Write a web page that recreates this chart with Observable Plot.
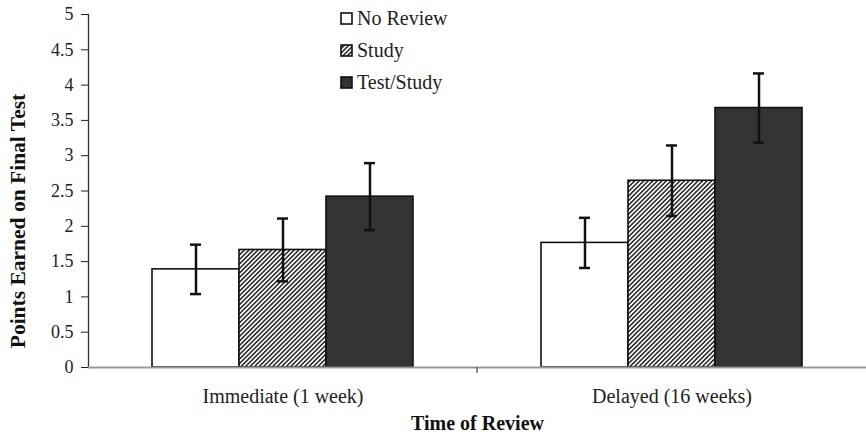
<!DOCTYPE html>
<html><head><meta charset="utf-8">
<script src="https://cdn.jsdelivr.net/npm/d3@7"></script>
<script src="https://cdn.jsdelivr.net/npm/@observablehq/plot@0.6"></script>
<style>
body{margin:0;background:#fff;}
#wrap{position:relative;width:866px;height:439px;font-family:"Liberation Serif","Times New Roman",serif;}
#wrap svg text{font-family:"Liberation Serif","Times New Roman",serif;}
#legend{position:absolute;left:340px;top:2px;}
.row{display:flex;align-items:center;height:32px;font-size:20px;color:#222;}
.row svg{margin-right:4px;}
</style></head><body><div id="wrap"><svg width="0" height="0" style="position:absolute"><defs><pattern id="hatch" patternUnits="userSpaceOnUse" width="3.2" height="3.2" patternTransform="rotate(45)"><rect width="3.2" height="3.2" fill="#fff"/><line x1="0.8" y1="0" x2="0.8" y2="3.2" stroke="#222" stroke-width="1.5"/></pattern></defs></svg></div>
<script>
const times = ["Immediate (1 week)", "Delayed (16 weeks)"];
const conditions = ["No Review", "Study", "Test/Study"];
const immediateMeans = [1.39, 1.665, 2.42];
const immediateErrors = [0.35, 0.445, 0.475];
const delayedMeans = [1.765, 2.645, 3.675];
const delayedErrors = [0.355, 0.5, 0.49];
const yTicks = [0, 0.5, 1, 1.5, 2, 2.5, 3, 3.5, 4, 4.5, 5];
const fills = ["#ffffff", "url(#hatch)", "#333333"];

const data = [];
[[immediateMeans, immediateErrors], [delayedMeans, delayedErrors]].forEach(([m, e], i) => {
  conditions.forEach((c, j) => data.push({time: times[i], condition: c, mean: m[j], lo: m[j] - e[j], hi: m[j] + e[j]}));
});

const serif = "'Liberation Serif', 'Times New Roman', serif";
const plot = Plot.plot({
  width: 866, height: 439,
  marginTop: 14, marginBottom: 72, marginLeft: 88, marginRight: 0,
  style: {fontFamily: serif, color: "#222", background: "#fff", overflow: "visible"},
  fx: {domain: times, padding: 0},
  x: {domain: conditions, paddingInner: 0, paddingOuter: 0.723, axis: null},
  y: {domain: [0, 5]},
  color: {domain: conditions, range: fills},
  marks: [
    Plot.axisY({ticks: yTicks, tickSize: 7, tickPadding: 8, tickFormat: d => String(d), fontSize: 18, fontFamily: serif,
      label: "Points Earned on Final Test", labelAnchor: "center", labelArrow: "none", labelOffset: 79}),
    Plot.axisFx({anchor: "bottom", tickSize: 0, tickPadding: 21, fontSize: 20, fontFamily: serif,
      label: "Time of Review", labelAnchor: "center", labelArrow: "none", labelOffset: 62}),
    Plot.frame({anchor: "left", facetAnchor: "left", stroke: "#333", strokeWidth: 1.3}),
    Plot.barY(data, {fx: "time", x: "condition", y: "mean", fill: "condition", stroke: "#111", strokeWidth: 1.6}),
    Plot.ruleY([0], {stroke: "#999", strokeWidth: 2}),
    Plot.ruleX(data, {fx: "time", x: "condition", y1: "lo", y2: "hi", stroke: "#111", strokeWidth: 2.5}),
    Plot.tickY(data, {fx: "time", x: "condition", y: "hi", insetLeft: 38, insetRight: 38, stroke: "#111", strokeWidth: 2.5}),
    Plot.tickY(data, {fx: "time", x: "condition", y: "lo", insetLeft: 38, insetRight: 38, stroke: "#111", strokeWidth: 2.5})
  ]
});

const svg = d3.select(plot);
svg.selectAll("text").attr("font-family", serif);
// bold axis titles, shift y title as in reference
svg.selectAll('g[aria-label="fx-axis label"] text')
  .attr("font-weight", "bold").attr("font-size", 20).attr("fill", "#111");
svg.selectAll('g[aria-label="y-axis label"] text')
  .attr("font-weight", "bold").attr("font-size", 21.5).attr("fill", "#111");
const yl = svg.select('g[aria-label="y-axis label"]');
yl.attr("transform", ((yl.attr("transform") || "") + " translate(0,30)").trim());
// category boundary tick on the x axis
const fx = plot.scale("fx"), y = plot.scale("y");
const y0 = y.apply(0);
times.slice(1).forEach(t => {
  const xb = fx.apply(t);
  svg.append("line").attr("x1", xb).attr("x2", xb).attr("y1", y0).attr("y2", y0 + 6)
    .attr("stroke", "#555").attr("stroke-width", 1.3);
});

document.getElementById("wrap").appendChild(plot);

const legend = d3.select("#wrap").append("div").attr("id", "legend");
conditions.forEach((c, i) => {
  const row = legend.append("div").attr("class", "row");
  row.append("svg").attr("width", 13).attr("height", 13)
    .append("rect").attr("x", 1).attr("y", 1).attr("width", 11).attr("height", 11)
    .attr("fill", fills[i]).attr("stroke", "#111").attr("stroke-width", 1.6);
  row.append("span").text(c);
});
</script>
</body></html>
